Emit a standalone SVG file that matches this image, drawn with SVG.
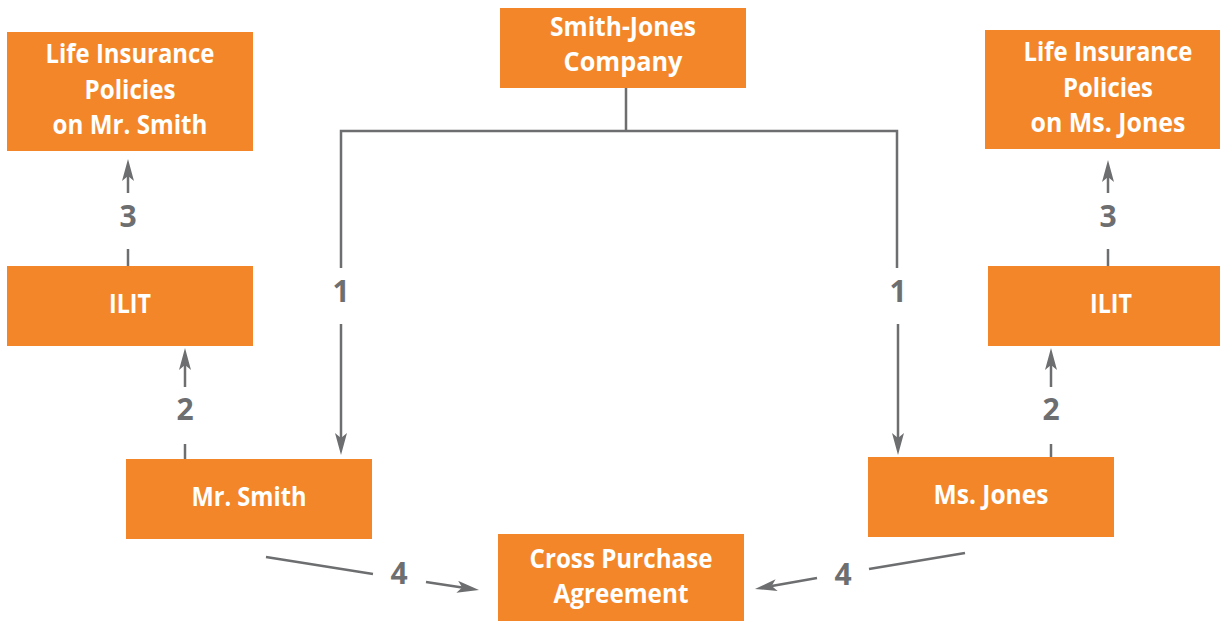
<svg xmlns="http://www.w3.org/2000/svg" width="1220" height="621" viewBox="0 0 1220 621">
<style>
.box{fill:#F38629}
.t{font-family:"Open Sans","Liberation Sans",sans-serif;font-weight:700;font-size:27px;fill:#fff;text-anchor:middle}
.n{font-family:"Open Sans","Liberation Sans",sans-serif;font-weight:700;font-size:30px;fill:#6d6e70;text-anchor:middle}
.c{fill:none;stroke:#6d6e70;stroke-width:2.5}
</style>
<defs>
<marker id="ah" markerUnits="userSpaceOnUse" viewBox="0 0 22 12" markerWidth="22" markerHeight="12" refX="5" refY="6" orient="auto">
<path d="M0,0 L22,6 L0,12 L5,6 z" fill="#6d6e70"/>
</marker>
</defs>
<rect width="1220" height="621" fill="#fff"/>
<g id="connectors">
<path class="c" d="M626,88 V131 M341,268 V131 H897 V268"/>
<path class="c" d="M341,324 V438" marker-end="url(#ah)"/>
<path class="c" d="M898,324 V438" marker-end="url(#ah)"/>
<path class="c" d="M185,459 V444"/>
<path class="c" d="M185,387 V365" marker-end="url(#ah)"/>
<path class="c" d="M128,266 V249"/>
<path class="c" d="M128,193 V176" marker-end="url(#ah)"/>
<path class="c" d="M1051,457 V444"/>
<path class="c" d="M1051,387 V365" marker-end="url(#ah)"/>
<path class="c" d="M1108,266 V249"/>
<path class="c" d="M1108,193 V177" marker-end="url(#ah)"/>
<path class="c" d="M266,557 L373,574"/>
<path class="c" d="M426,582 L462.2,587.5" marker-end="url(#ah)"/>
<path class="c" d="M965,553 L869,569"/>
<path class="c" d="M817,578 L771.7,586" marker-end="url(#ah)"/>
<text class="n" x="341" y="302">1</text>
<text class="n" x="898" y="302">1</text>
<text class="n" x="185" y="420">2</text>
<text class="n" x="1051" y="420">2</text>
<text class="n" x="128" y="227">3</text>
<text class="n" x="1108" y="227">3</text>
<text class="n" x="399" y="584">4</text>
<text class="n" x="843" y="585">4</text>
</g>
<g id="li-smith">
<rect class="box" x="7" y="32" width="246" height="119"/>
<text class="t" x="130" y="63" textLength="169" lengthAdjust="spacingAndGlyphs">Life Insurance</text>
<text class="t" x="130" y="99" textLength="91" lengthAdjust="spacingAndGlyphs">Policies</text>
<text class="t" x="130" y="134" textLength="155" lengthAdjust="spacingAndGlyphs">on Mr. Smith</text>
</g>
<g id="smith-jones">
<rect class="box" x="500" y="8" width="246" height="80"/>
<text class="t" x="623" y="36" textLength="146" lengthAdjust="spacingAndGlyphs">Smith-Jones</text>
<text class="t" x="623" y="71" textLength="119" lengthAdjust="spacingAndGlyphs">Company</text>
</g>
<g id="li-jones">
<rect class="box" x="985" y="30" width="246" height="119"/>
<text class="t" x="1108" y="61" textLength="169" lengthAdjust="spacingAndGlyphs">Life Insurance</text>
<text class="t" x="1108" y="97" textLength="90" lengthAdjust="spacingAndGlyphs">Policies</text>
<text class="t" x="1108" y="132" textLength="155" lengthAdjust="spacingAndGlyphs">on Ms. Jones</text>
</g>
<g id="ilit-smith">
<rect class="box" x="7" y="266" width="246" height="80"/>
<text class="t" x="130" y="313" textLength="42" lengthAdjust="spacingAndGlyphs">ILIT</text>
</g>
<g id="ilit-jones">
<rect class="box" x="988" y="266" width="246" height="80"/>
<text class="t" x="1111" y="313" textLength="42" lengthAdjust="spacingAndGlyphs">ILIT</text>
</g>
<g id="mr-smith">
<rect class="box" x="126" y="459" width="246" height="80"/>
<text class="t" x="249" y="506" textLength="115" lengthAdjust="spacingAndGlyphs">Mr. Smith</text>
</g>
<g id="ms-jones">
<rect class="box" x="868" y="457" width="246" height="80"/>
<text class="t" x="991" y="504" textLength="115" lengthAdjust="spacingAndGlyphs">Ms. Jones</text>
</g>
<g id="cross-purchase">
<rect class="box" x="498" y="534" width="246" height="88"/>
<text class="t" x="621" y="568" textLength="183" lengthAdjust="spacingAndGlyphs">Cross Purchase</text>
<text class="t" x="621" y="603" textLength="135" lengthAdjust="spacingAndGlyphs">Agreement</text>
</g>
</svg>
